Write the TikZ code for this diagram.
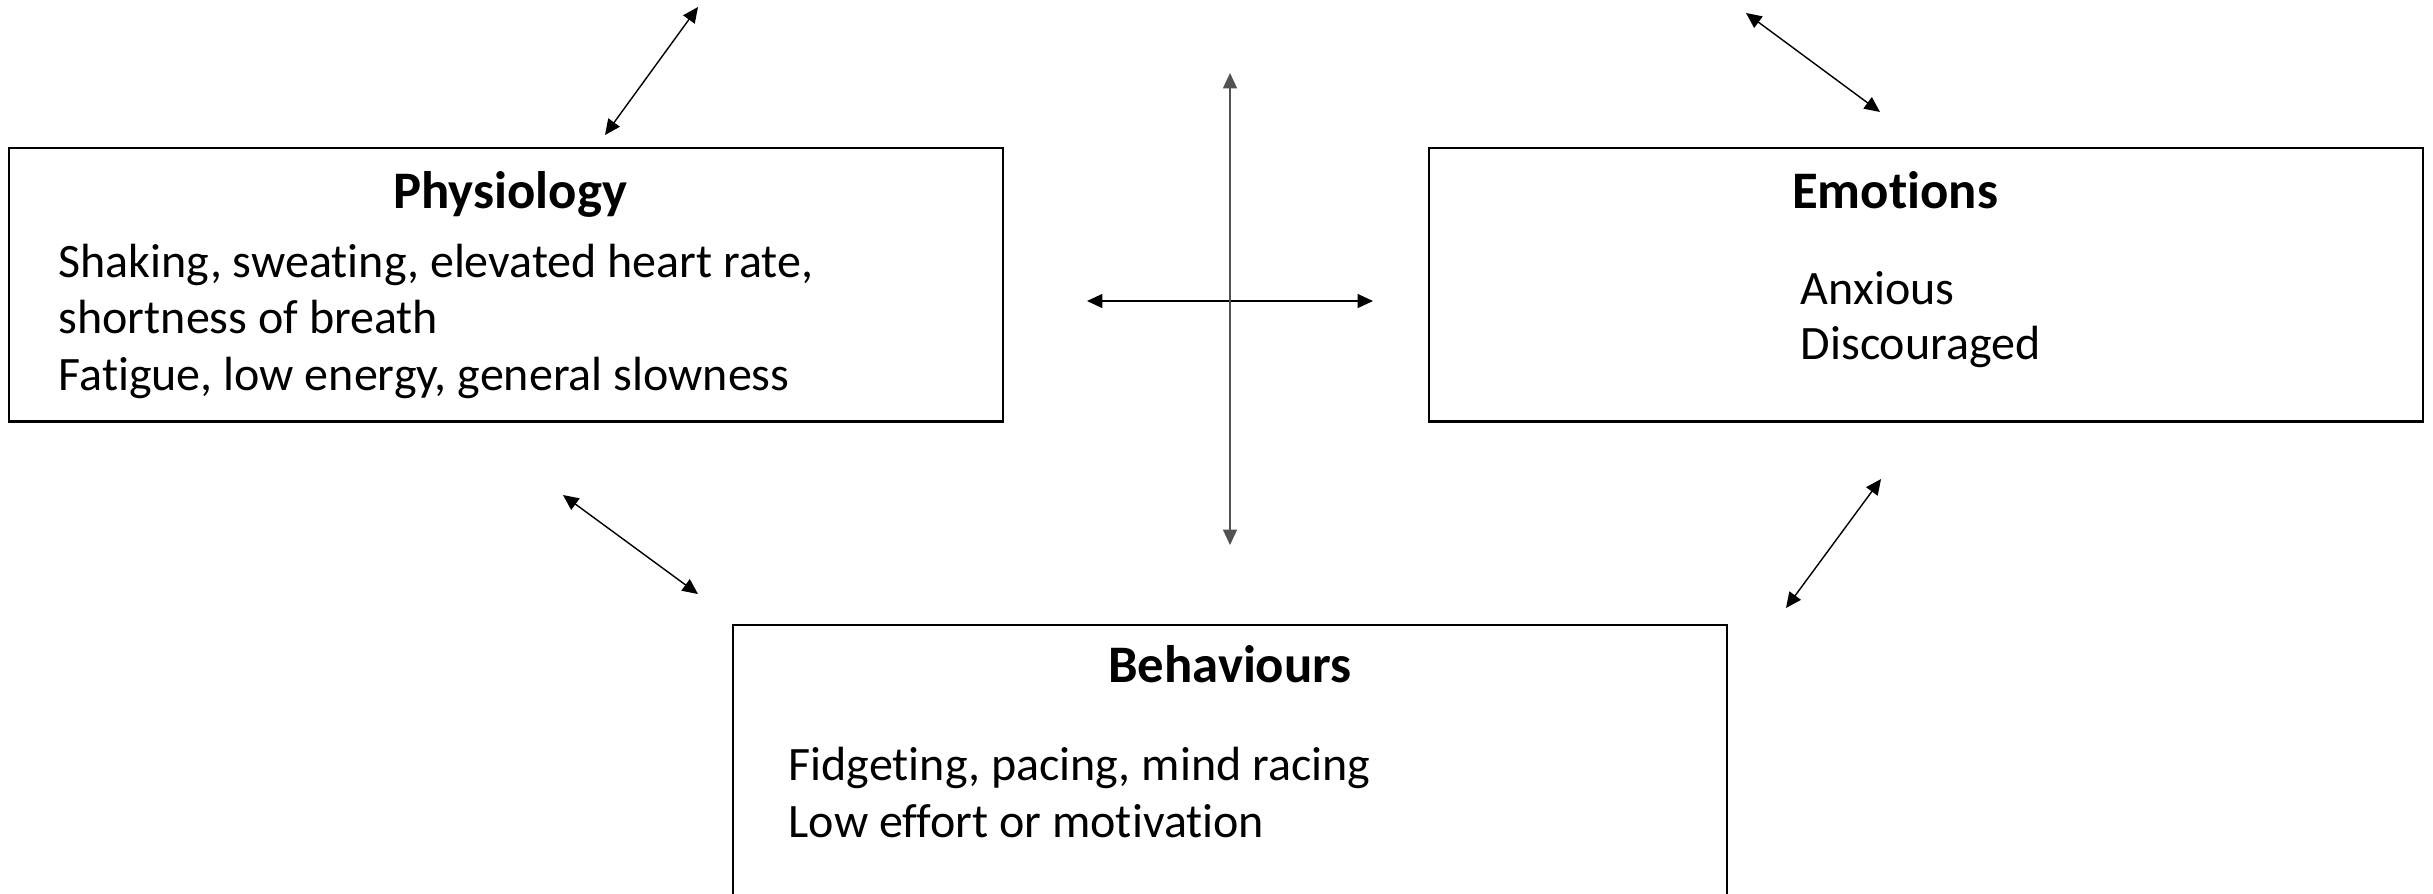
\documentclass[tikz,border=0pt]{standalone}
\usepackage{fontspec}
\setmainfont[Ligatures=NoCommon]{Carlito}
\usetikzlibrary{arrows.meta,positioning}

\tikzset{
  box/.style={draw,line width=0.7pt,minimum width=9.93cm,minimum height=2.73cm,anchor=north west,inner sep=0pt},
  boxtitle/.style={font=\fontsize{15}{18}\selectfont\bfseries,anchor=base,inner sep=0pt},
  boxline/.style={font=\fontsize{13.65}{16}\selectfont,anchor=base west,inner sep=0pt},
  link/.style={{Triangle[length=4.4pt,width=4pt]}-{Triangle[length=4.4pt,width=4pt]},line width=0.4pt},
}

\begin{document}
\begin{tikzpicture}[x=0.01cm,y=-0.01cm]
		\useasboundingbox (0,0) rectangle (2433,893);
		% the three boxes
		\node[box](phys) at (8,147) {};
		\node[box](emo) at (1428,147) {};
		\node[box](beh) at (732,624) {};
		% physiology
		\node[boxtitle](physt) at (510,208) {Physiology};
		\node[boxline](phys1) at (58,277) {Shaking, sweating, elevated heart rate,};
		\node[boxline](phys2) at (58,333) {shortness of breath};
		\node[boxline](phys3) at (58,390) {Fatigue, low energy, general slowness};
		% emotions
		\node[boxtitle](emot) at (1895,208) {Emotions};
		\node[boxline](emo1) at (1800,304) {Anxious};
		\node[boxline](emo2) at (1800,359) {Discouraged};
		% behaviours
		\node[boxtitle](beht) at (1230,682) {Behaviours};
		\node[boxline](beh1) at (788,780) {Fidgeting, pacing, mind racing};
		\node[boxline](beh2) at (788,837) {Low effort or motivation};
		% arrow ends
		\coordinate (pa) at (605,135);
		\coordinate (pb) at (698,7);
		\coordinate (ea) at (1746,13);
		\coordinate (eb) at (1880,112);
		\coordinate (ha) at (1087,301);
		\coordinate (hb) at (1373,301);
		\coordinate (va) at (1230,73);
		\coordinate (vb) at (1230,545);
		\coordinate (la) at (563,495);
		\coordinate (lb) at (698,594);
		\coordinate (ra) at (1881,479);
		\coordinate (rb) at (1786,608);
		\draw[link] (pa) -- (pb);
		\draw[link] (ea) -- (eb);
		\draw[link] (ha) -- (hb);
		\draw[link,draw=black!68] (va) -- (vb);
		\draw[link] (la) -- (lb);
		\draw[link] (ra) -- (rb);
\end{tikzpicture}
\end{document}
